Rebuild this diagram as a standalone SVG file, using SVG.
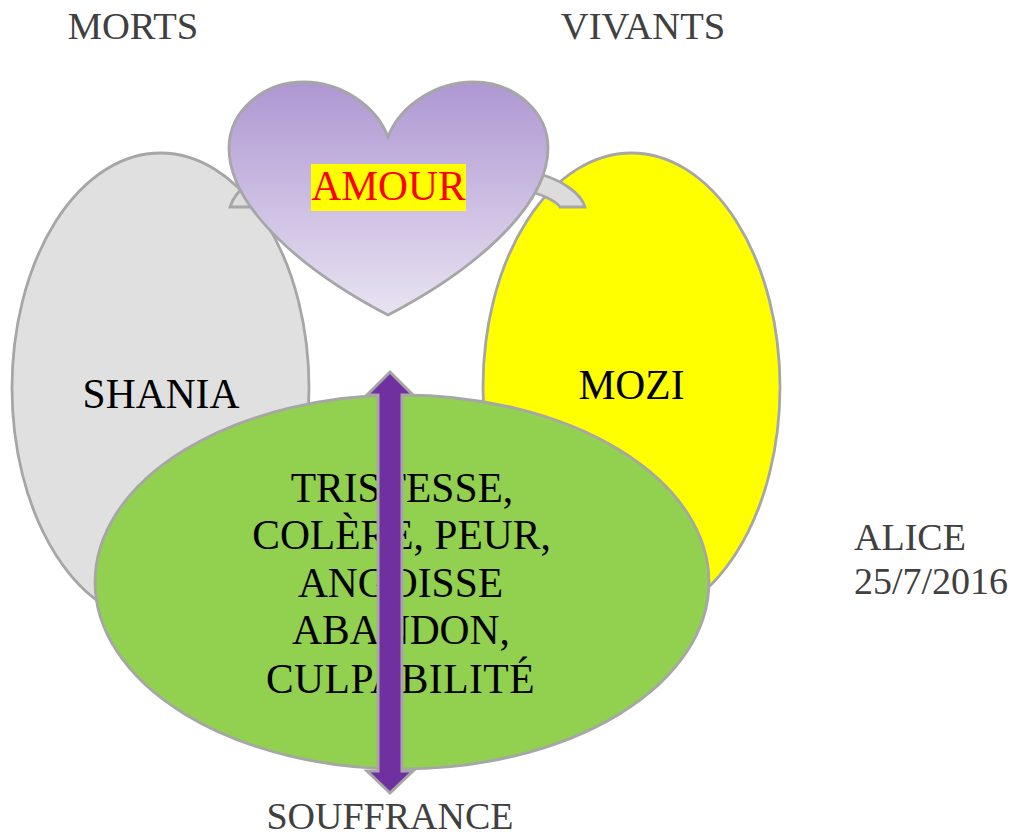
<svg xmlns="http://www.w3.org/2000/svg" width="1011" height="832" viewBox="0 0 1011 832">
<style>
.s{stroke:#a6a6a6;stroke-width:2.800}
text{font-family:"Liberation Serif","Times New Roman",serif;font-size:41.500px;text-anchor:middle;fill:#000}
text.g{fill:#404040;font-size:38px}
text.t{font-size:38.600px}
text.l{text-anchor:start}
</style>
<defs>
<linearGradient id="h" x1="0" y1="0" x2="0" y2="1">
<stop offset="0" stop-color="#ae97d2"/>
<stop offset="1" stop-color="#e9e3f2"/>
</linearGradient>
</defs>
<rect width="1011" height="832" fill="#fff"/>
<g id="labels-top">
<text class="g t" x="133" y="38.500">MORTS</text>
<text class="g t" x="643" y="38.500">VIVANTS</text>
</g>
<g id="shania">
<ellipse class="s" cx="160.500" cy="388" rx="148.500" ry="235" fill="#e0e0e0"/>
<text x="161" y="408">SHANIA</text>
</g>
<g id="mozi">
<ellipse class="s" cx="631.500" cy="387" rx="148.500" ry="234" fill="#ffff00"/>
<text x="631.500" y="399">MOZI</text>
</g>
<g id="connectors">
<path class="s" d="M230 207C233 198 238 191 246 186L262 207Z" fill="#dcdcdc"/>
<path class="s" d="M543 175C562 181 581 193 585 207L560 207C557 202 545 196 535 193Z" fill="#dcdcdc"/>
</g>
<g id="amour">
<path class="s" d="M388 137C376 105 340 82 304 82C262 82 229 112 229 148C229 208 305 272 388 315C471 272 548 208 548 148C548 112 515 82 473 82C437 82 400 105 388 137Z" fill="url(#h)"/>
<rect x="311" y="164" width="155" height="47" fill="#ffff00"/>
<text x="388.500" y="200" style="fill:#ff0000">AMOUR</text>
</g>
<g id="souffrance-ellipse">
<ellipse class="s" cx="402" cy="582" rx="307" ry="187" fill="#92d050"/>
<text x="402" y="502">TRISTESSE,</text>
<text x="401.500" y="549">COLÈRE, PEUR,</text>
<text x="400.500" y="597">ANGOISSE</text>
<text x="401" y="644">ABANDON,</text>
<text x="400.500" y="693" style="letter-spacing:.5px">CULPABILITÉ</text>
</g>
<g id="arrow">
<path d="M390 372L413 395L402 395L402 771L413 771L390 793L367 771L378 771L378 395L367 395Z" fill="#7030a0" stroke="#a6a6a6" stroke-width="3"/>
</g>
<g id="labels-other">
<text class="g" x="390" y="829">SOUFFRANCE</text>
<text class="g l" x="854" y="550">ALICE</text>
<text class="g l" x="854" y="594">25/7/2016</text>
</g>
</svg>
